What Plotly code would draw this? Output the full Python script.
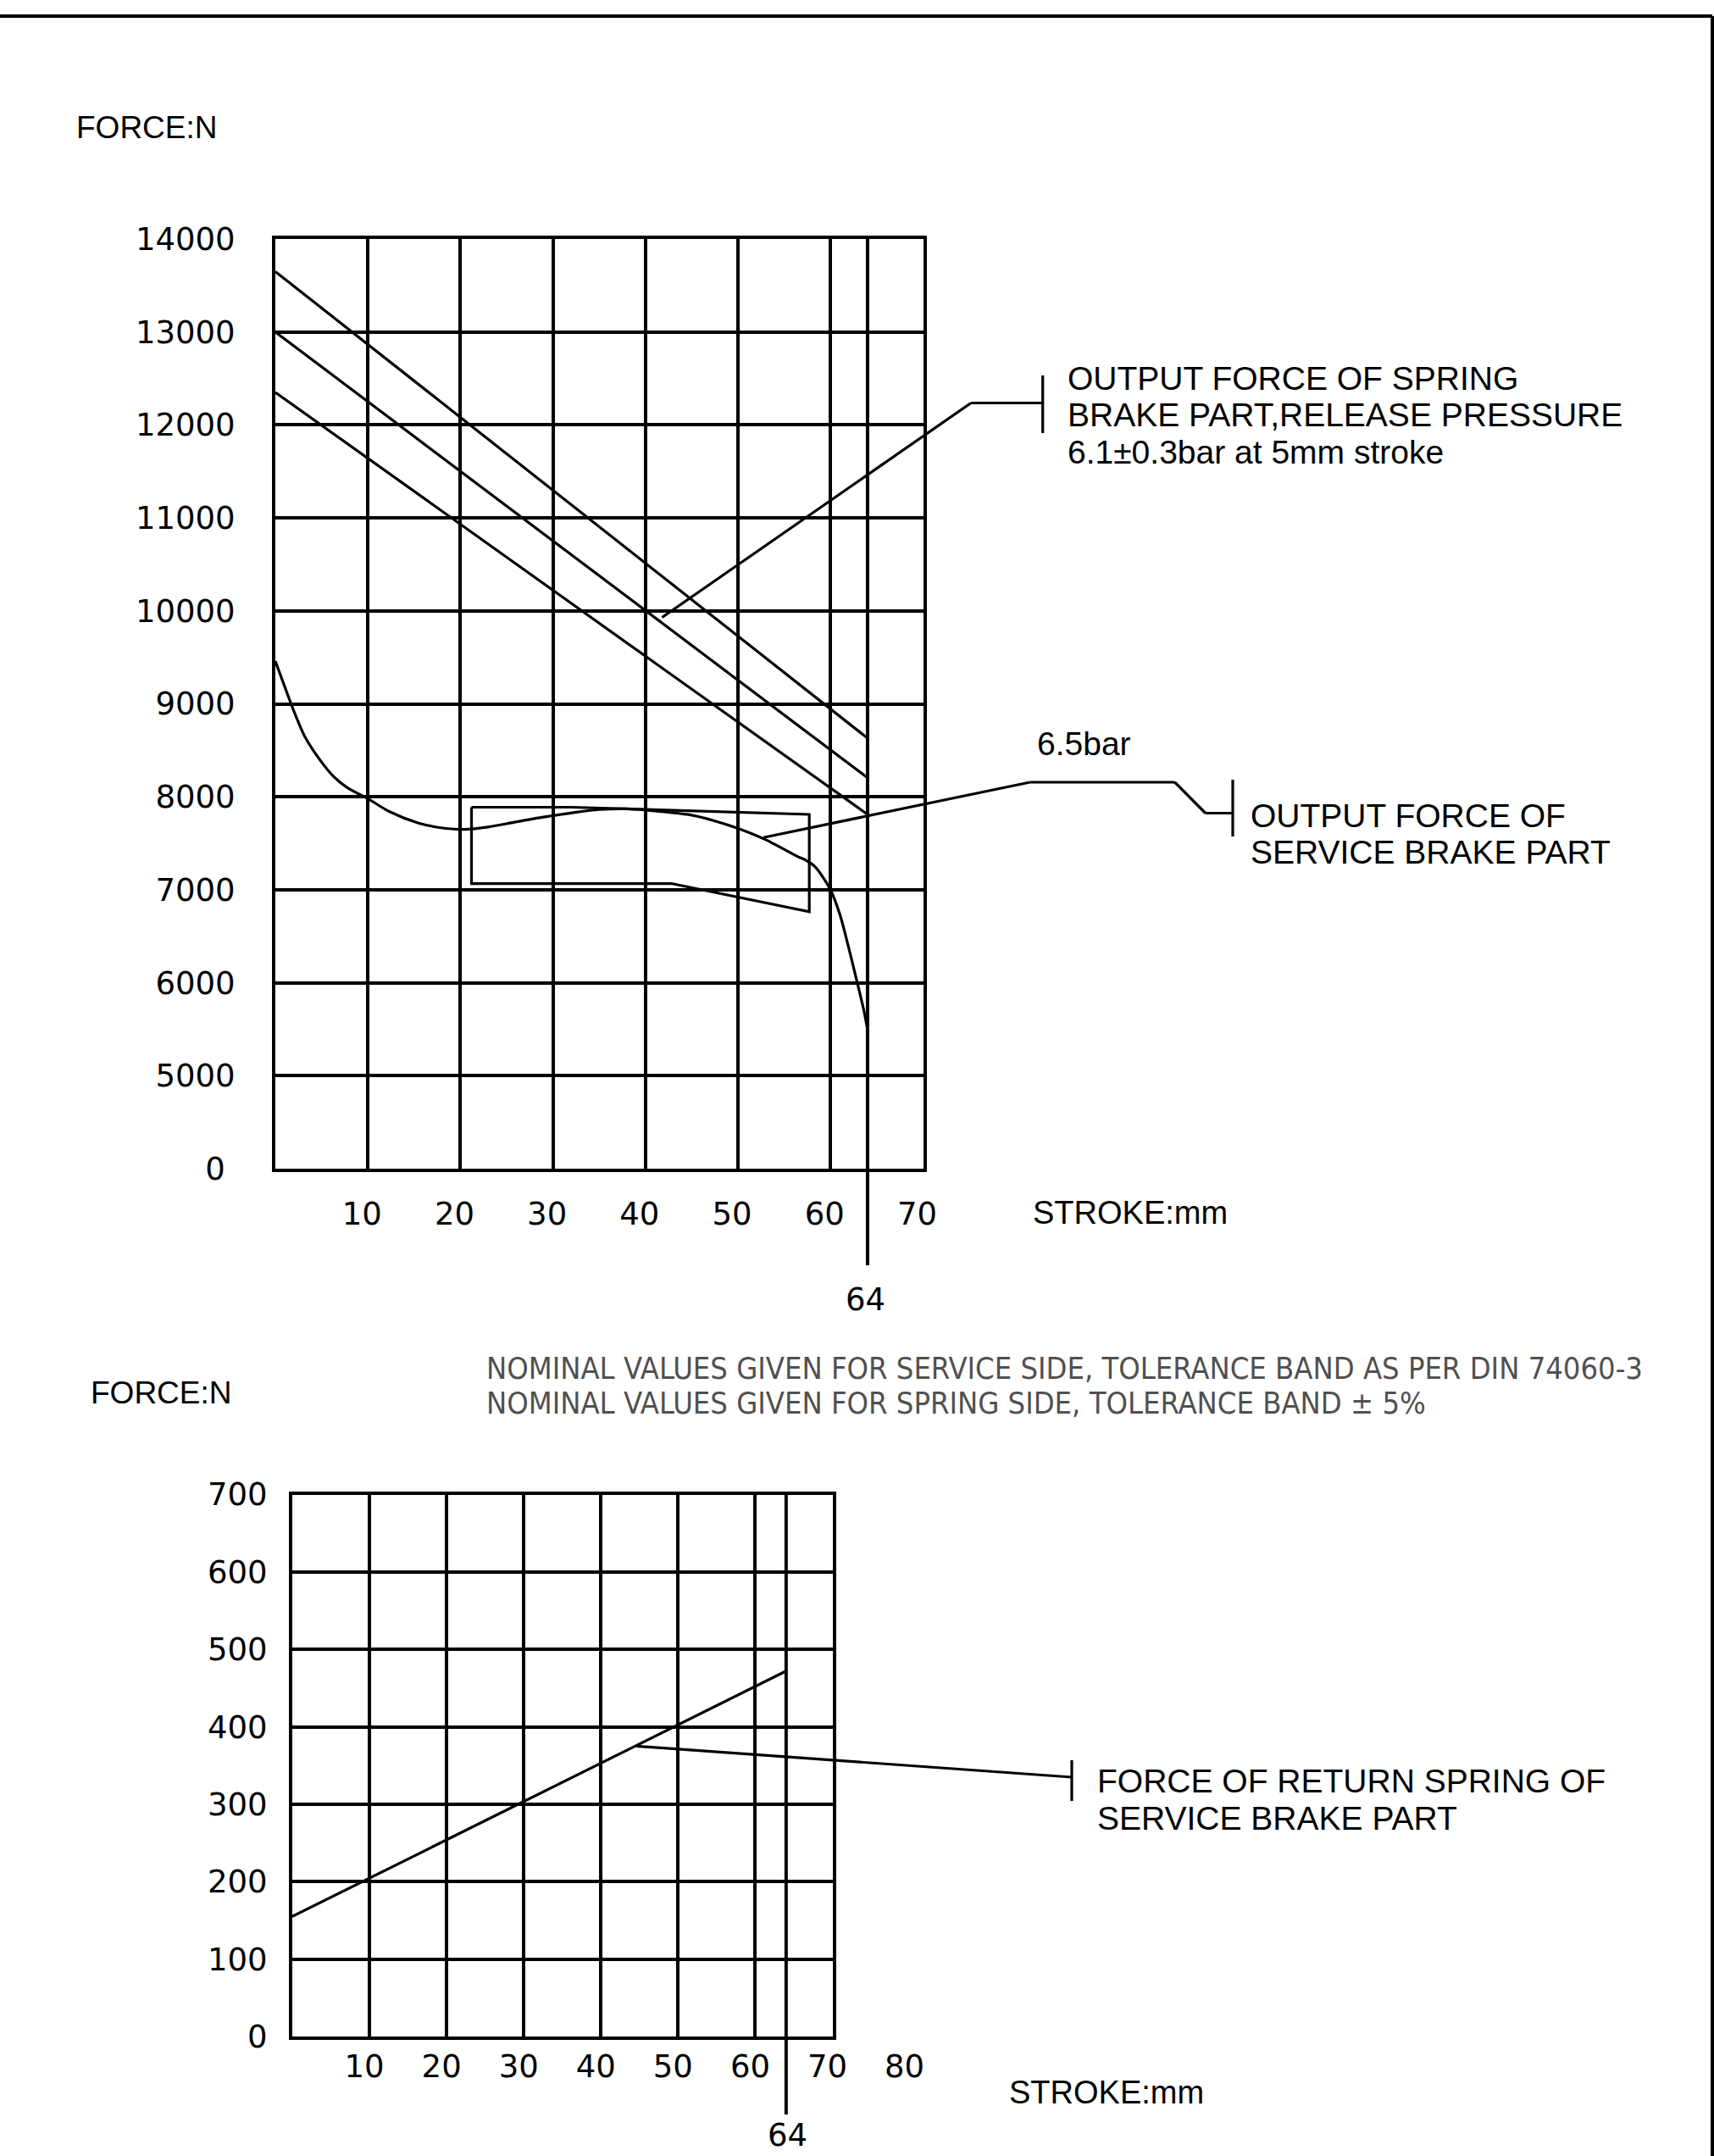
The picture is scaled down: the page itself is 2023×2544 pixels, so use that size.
import plotly.graph_objects as go

W, H = 2023, 2544

# ---------------- data ----------------
STROKE_END = 64

spring_x = [0, 64]
spring_upper = [13650, 8630]
spring_nominal = [13000, 8205]
spring_lower = [12350, 7810]

service_x = [0, 1.7, 2.45, 3.2, 4.8, 6.3, 7.8, 10, 12.3, 15.4, 18.4, 20.5, 23, 25.5, 28, 30,
             32.5, 35, 38, 40, 42.5, 45, 47.5, 50, 53, 56.7, 57.3, 58.3, 60, 61.0, 61.9, 62.8, 63.6, 64.0]
service_y = [9460, 9000, 8811, 8645, 8400, 8218, 8097, 7980, 7842, 7720, 7660, 7650, 7675, 7720, 7766, 7797,
             7835, 7863, 7870, 7857, 7833, 7802, 7740, 7660, 7538, 7345, 7320, 7250, 7000, 6736, 6401, 6036, 5702, 5490]

tol_x = [21.2, 32.0, 57.7, 57.7, 42.8, 21.2, 21.2]
tol_y = [7888, 7888, 7811, 6763, 7067, 7067, 7888]

return_x = [0, 64]
return_y = [155, 472]

top_x_ticks = [10, 20, 30, 40, 50, 60, 70]
top_y_ticks = [4000, 5000, 6000, 7000, 8000, 9000, 10000, 11000, 12000, 13000, 14000]
top_y_text = ["0\u00a0", "5000", "6000", "7000", "8000", "9000", "10000", "11000", "12000", "13000", "14000"]
bot_x_ticks = [10, 20, 30, 40, 50, 60, 70, 80]
bot_y_ticks = [0, 100, 200, 300, 400, 500, 600, 700]

# ---------------- geometry (page pixels) ----------------
TOP_L, TOP_R, TOP_T, TOP_B = 325, 1089.5, 282, 1379
BOT_L, BOT_R, BOT_T, BOT_B = 345, 982.5, 1763.5, 2403
TOP_XR, TOP_YR = (0, 70), (4000, 14000)
BOT_XR, BOT_YR = (0, 70), (0, 700)
BOT_LABEL_R = BOT_L + (BOT_R - BOT_L) * 80 / 70


def px(x):
    return x / W


def py(y):
    return 1 - y / H


def top_data(x, y):
    X = TOP_L + (x - TOP_XR[0]) / (TOP_XR[1] - TOP_XR[0]) * (TOP_R - TOP_L)
    Y = TOP_B - (y - TOP_YR[0]) / (TOP_YR[1] - TOP_YR[0]) * (TOP_B - TOP_T)
    return X, Y


def bot_data(x, y):
    X = BOT_L + (x - BOT_XR[0]) / (BOT_XR[1] - BOT_XR[0]) * (BOT_R - BOT_L)
    Y = BOT_B - (y - BOT_YR[0]) / (BOT_YR[1] - BOT_YR[0]) * (BOT_B - BOT_T)
    return X, Y


FONT = "Liberation Sans, Arial, sans-serif"
NUM_FONT = "DejaVu Sans, Liberation Sans, sans-serif"
LW_GRID = 4
LW_CURVE = 3.2

fig = go.Figure()

line_style = dict(color="black", width=LW_CURVE)
for ys in (spring_upper, spring_nominal, spring_lower):
    fig.add_trace(go.Scatter(x=spring_x, y=ys, mode="lines", line=line_style,
                             xaxis="x", yaxis="y", hoverinfo="skip"))
fig.add_trace(go.Scatter(x=service_x, y=service_y, mode="lines",
                         line=dict(color="black", width=LW_CURVE, shape="spline", smoothing=0.8),
                         xaxis="x", yaxis="y", hoverinfo="skip"))
fig.add_trace(go.Scatter(x=tol_x, y=tol_y, mode="lines", line=line_style,
                         xaxis="x", yaxis="y", hoverinfo="skip"))
fig.add_trace(go.Scatter(x=return_x, y=return_y, mode="lines", line=line_style,
                         xaxis="x2", yaxis="y2", hoverinfo="skip"))
# invisible carrier for the label-only axis of the lower chart (ticks run to 80)
fig.add_trace(go.Scatter(x=[0], y=[0], mode="markers", marker=dict(opacity=0),
                         xaxis="x3", yaxis="y3", hoverinfo="skip"))

axis_common = dict(showgrid=True, gridcolor="black", gridwidth=LW_GRID, showline=True,
                   linecolor="black", linewidth=LW_GRID, mirror=True, ticks="",
                   zeroline=False, fixedrange=True, automargin=False,
                   tickfont=dict(family=NUM_FONT, size=37, color="black"))

fig.update_layout(
    width=W, height=H, autosize=False,
    margin=dict(l=0, r=0, t=0, b=0, pad=0, autoexpand=False),
    paper_bgcolor="white", plot_bgcolor="rgba(0,0,0,0)",
    showlegend=False,
    font=dict(family=FONT, size=39, color="black"),
    xaxis=dict(domain=[px(TOP_L), px(TOP_R)], range=list(TOP_XR), tickvals=top_x_ticks,
               anchor="y", ticklabelshift=-7, ticklabelstandoff=18, **axis_common),
    yaxis=dict(domain=[py(TOP_B), py(TOP_T)], range=list(TOP_YR), tickvals=top_y_ticks,
               ticktext=top_y_text, anchor="x", ticklabelstandoff=36, **axis_common),
    xaxis2=dict(domain=[px(BOT_L), px(BOT_R)], range=list(BOT_XR), tickvals=bot_x_ticks[:-1],
                showticklabels=False, anchor="y2", **axis_common),
    yaxis2=dict(domain=[py(BOT_B), py(BOT_T)], range=list(BOT_YR), tickvals=bot_y_ticks,
                anchor="x2", ticklabelstandoff=18, **axis_common),
    xaxis3=dict(domain=[px(BOT_L), px(BOT_LABEL_R)], range=[0, 80], tickvals=bot_x_ticks,
                anchor="y3", showgrid=False, showline=False, zeroline=False, ticks="",
                fixedrange=True, automargin=False, ticklabelshift=-6, ticklabelstandoff=10,
                tickfont=dict(family=NUM_FONT, size=37, color="black")),
    yaxis3=dict(domain=[py(BOT_B), py(BOT_T)], range=list(BOT_YR), anchor="x3",
                showgrid=False, showline=False, zeroline=False, showticklabels=False,
                ticks="", fixedrange=True, automargin=False),
)

shapes = []


def seg(x0, y0, x1, y1, w=LW_CURVE):
    shapes.append(dict(type="line", xref="paper", yref="paper",
                       x0=px(x0), y0=py(y0), x1=px(x1), y1=py(y1),
                       line=dict(color="black", width=w)))


# page frame (top and right edges)
seg(0, 19, 2021, 19, 4)
seg(2021, 19, 2021, H, 4)

# stroke 64 reference lines
x64_top, _ = top_data(STROKE_END, TOP_YR[1])
seg(x64_top, TOP_T, x64_top, 1493, LW_GRID)
x64_bot, _ = bot_data(STROKE_END, BOT_YR[1])
seg(x64_bot, BOT_T, x64_bot, 2495, LW_GRID)

# leader: spring brake part
sx, sy = top_data(41.8, 9930)
seg(sx, sy, 1146, 475.5)
seg(1146, 475.5, 1230.7, 475.5)
seg(1230.7, 443, 1230.7, 511)

# leader: service brake part
sx, sy = top_data(52.75, 7562)
seg(sx, sy, 1215.7, 923)
seg(1215.7, 923, 1386.6, 923)
seg(1386.6, 923, 1422.8, 959.5)
seg(1422.8, 959.5, 1455, 959.5)
seg(1455, 920, 1455, 987)

# leader: return spring
sx, sy = bot_data(44.6, 375)
seg(sx, sy, 1265, 2097)
seg(1265, 2077, 1265, 2125)

fig.update_layout(shapes=shapes)

annotations = []


def text(x, y, s, size=39, anchor="left", color="black", family=FONT):
    annotations.append(dict(xref="paper", yref="paper", x=px(x), y=py(y), text=s,
                            showarrow=False, xanchor=anchor, yanchor="middle",
                            font=dict(family=family, size=size, color=color)))


text(88, 150, "FORCE:N", size=37)
text(1258, 446, "OUTPUT FORCE OF SPRING")
text(1258, 489, "BRAKE PART,RELEASE PRESSURE")
text(1258, 533, "6.1±0.3bar at 5mm stroke")
text(1222, 878, "6.5bar")
text(1474, 962, "OUTPUT FORCE OF")
text(1474, 1006, "SERVICE BRAKE PART")
text(1217, 1431, "STROKE:mm", size=38)
text(1022, 1533, "64", anchor="center", family=NUM_FONT, size=37)
text(105, 1643, "FORCE:N", size=37)
NOTE_FONT = "Liberation Sans Narrow, DejaVu Sans Condensed, Liberation Sans, sans-serif"
text(572, 1614, "NOMINAL VALUES GIVEN FOR SERVICE SIDE, TOLERANCE BAND AS PER DIN 74060-3",
     size=36, color="#505050", family=NOTE_FONT)
text(572, 1655, "NOMINAL VALUES GIVEN FOR SPRING SIDE, TOLERANCE BAND ± 5%",
     size=36, color="#505050", family=NOTE_FONT)
text(1293, 2101, "FORCE OF RETURN SPRING OF")
text(1293, 2145, "SERVICE BRAKE PART")
text(1189, 2469, "STROKE:mm", size=38)
text(929, 2519, "64", anchor="center", family=NUM_FONT, size=37)

fig.update_layout(annotations=annotations)

fig.write_html("out.html", include_plotlyjs=True,
               config={"displayModeBar": False, "staticPlot": True},
               post_script="document.body.style.margin='0';document.body.style.overflow='hidden';")
